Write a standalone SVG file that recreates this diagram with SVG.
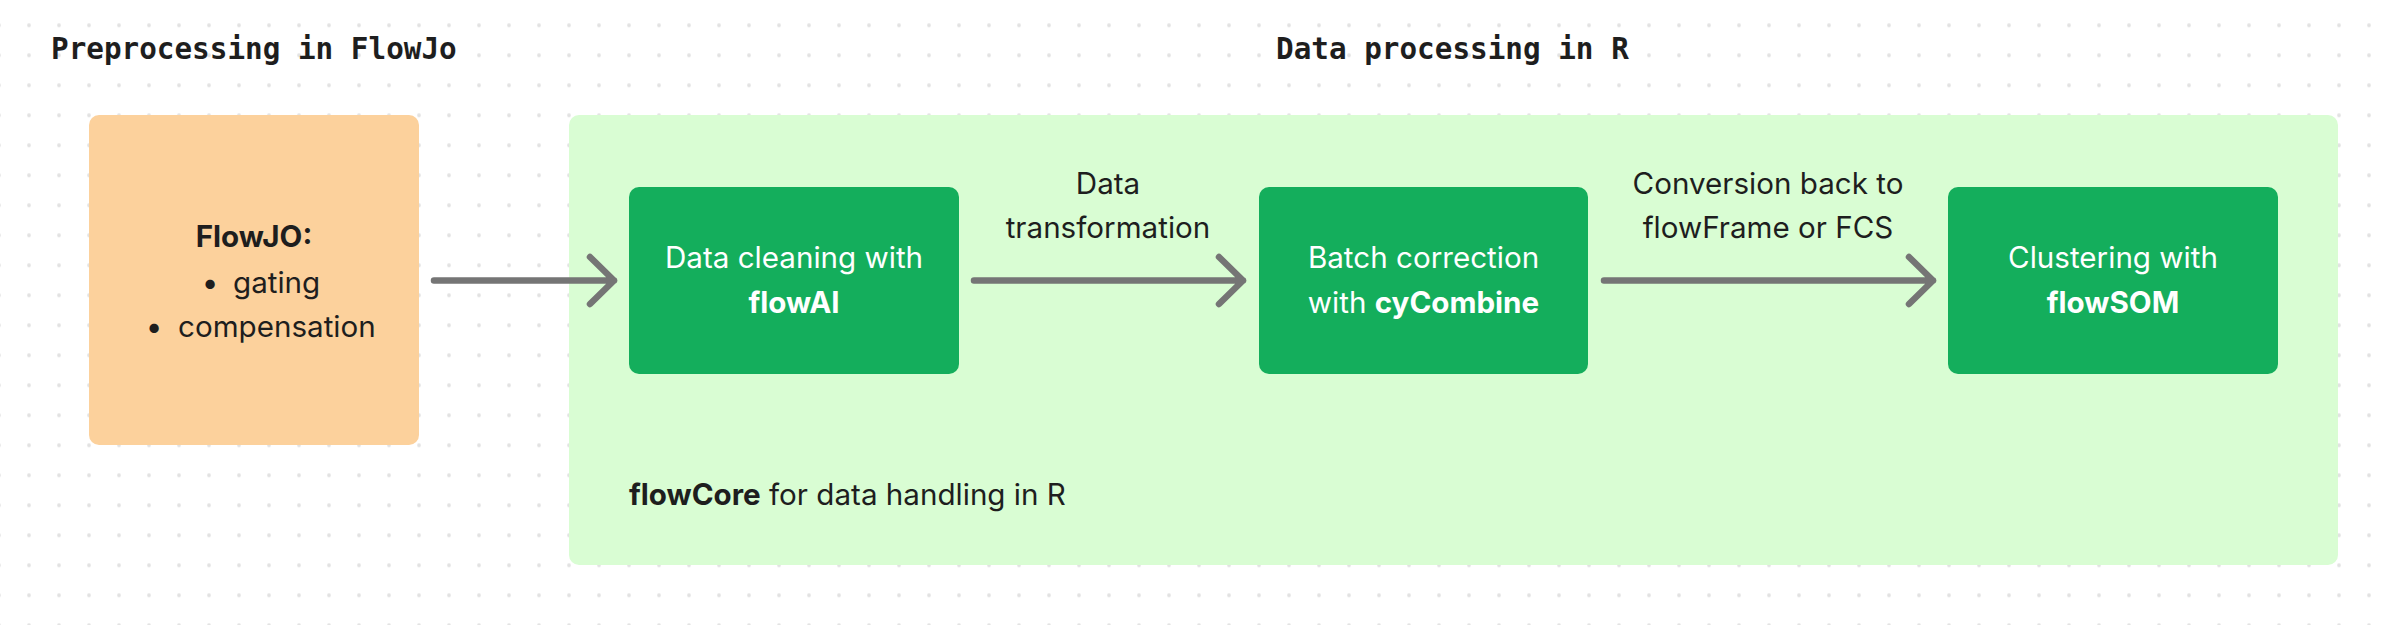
<svg xmlns="http://www.w3.org/2000/svg" width="2388" height="625" viewBox="0 0 2388 625">
  <defs>
    <pattern id="dots" x="-1" y="25.3" width="30" height="30" patternUnits="userSpaceOnUse">
      <circle cx="0" cy="0" r="1.9" fill="#E2E2E2"/>
      <circle cx="30" cy="0" r="1.9" fill="#E2E2E2"/>
      <circle cx="0" cy="30" r="1.9" fill="#E2E2E2"/>
      <circle cx="30" cy="30" r="1.9" fill="#E2E2E2"/>
    </pattern>
    <style>
      .title { font-family: "DejaVu Sans Mono", "Liberation Mono", monospace; font-weight: bold; font-size: 29.3px; fill: #1E1E1E; }
      .body { font-family: Inter, "Liberation Sans", sans-serif; font-size: 29.6px; fill: #1E1E1E; }
      .white { fill: #FFFFFF; }
      .b { font-weight: bold; }
      .node { fill: #14AE5C; }
      .conn { fill: none; stroke: #757575; stroke-width: 6.5; stroke-linecap: round; stroke-linejoin: round; }
    </style>
  </defs>

  <rect x="0" y="0" width="2388" height="625" fill="#FFFFFF"/>
  <rect x="0" y="0" width="2388" height="625" fill="url(#dots)"/>

  <text class="title" x="51" y="59">Preprocessing in FlowJo</text>
  <text class="title" x="1276" y="59">Data processing in R</text>

  <g id="r-container">
    <rect x="569" y="115" width="1769" height="450" rx="10" fill="#D9FDD3"/>
    <text class="body" x="629" y="505"><tspan class="b">flowCore</tspan> for data handling in R</text>
  </g>

  <g id="flowjo">
    <rect x="89" y="115" width="330" height="330" rx="10" fill="#FCD19C"/>
    <text class="body b" x="254" y="247" text-anchor="middle">FlowJO:</text>
    <text class="body" x="210" y="293" text-anchor="middle">•</text>
    <text class="body" x="233" y="293">gating</text>
    <text class="body" x="154" y="337" text-anchor="middle">•</text>
    <text class="body" x="178" y="337">compensation</text>
  </g>

  <g id="flowai">
    <rect class="node" x="629" y="187" width="330" height="187" rx="10"/>
    <text class="body white" x="794" y="268" text-anchor="middle">Data cleaning with</text>
    <text class="body white b" x="794" y="313" text-anchor="middle">flowAI</text>
  </g>

  <g id="cycombine">
    <rect class="node" x="1259" y="187" width="329" height="187" rx="10"/>
    <text class="body white" x="1423.5" y="268" text-anchor="middle">Batch correction</text>
    <text class="body white" x="1423.5" y="313" text-anchor="middle">with <tspan class="b">cyCombine</tspan></text>
  </g>

  <g id="flowsom">
    <rect class="node" x="1948" y="187" width="330" height="187" rx="10"/>
    <text class="body white" x="2113" y="268" text-anchor="middle">Clustering with</text>
    <text class="body white b" x="2113" y="313" text-anchor="middle">flowSOM</text>
  </g>

  <g id="connectors">
    <path class="conn" d="M434 280.5 H614 M590 257 L614 280.5 L590 304"/>
    <path class="conn" d="M974 280.5 H1243 M1219 257 L1243 280.5 L1219 304"/>
    <path class="conn" d="M1604 280.5 H1933 M1909 257 L1933 280.5 L1909 304"/>
    <text class="body" x="1108" y="194" text-anchor="middle">Data</text>
    <text class="body" x="1108" y="238" text-anchor="middle">transformation</text>
    <text class="body" x="1768" y="194" text-anchor="middle">Conversion back to</text>
    <text class="body" x="1768" y="238" text-anchor="middle">flowFrame or FCS</text>
  </g>
</svg>
